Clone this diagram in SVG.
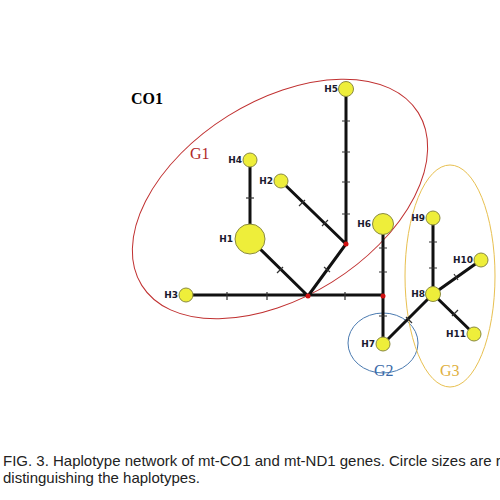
<svg xmlns="http://www.w3.org/2000/svg" width="500" height="500" viewBox="0 0 500 500">
<style>
.edge{stroke:#111;stroke-width:3;fill:none;stroke-linecap:butt}
.tick{stroke:#333;stroke-width:1.2}
.hap{fill:#eeee3a;stroke:#8a8a40;stroke-width:1}
.lbl{font-family:"DejaVu Sans",sans-serif;font-weight:bold;font-size:9px;fill:#1a1a2e;text-anchor:end}
.jn{fill:#d01010}
.grp{font-family:"Liberation Serif",serif;font-size:16px}
.cap{font-family:"Liberation Sans",Arial,sans-serif;font-size:15px;fill:#222}
</style>
<rect width="500" height="500" fill="#fff"/>
<text x="131" y="104" font-family="Liberation Serif,serif" font-weight="bold" font-size="16" fill="#000">CO1</text>
<g id="groups" fill="none">
<ellipse cx="280" cy="199" rx="163" ry="98" transform="rotate(-32 280 199)" stroke="#c03030" stroke-width="1"/>
<ellipse cx="383" cy="343" rx="35" ry="30" stroke="#4a7ab0" stroke-width="1"/>
<ellipse cx="450" cy="276" rx="45" ry="111" stroke="#e8c050" stroke-width="1"/>
<text class="grp" x="190" y="159" fill="#b02828">G1</text>
<text class="grp" x="374" y="376" fill="#3a6aa8">G2</text>
<text class="grp" x="440" y="376" fill="#e0b040">G3</text>
</g>
<g id="connectors">
<path class="edge" d="M346 89V244L308 296M281 181L346 244M250 160V239L308 296M186 295H383M383 224V344M383 344L433 294M433 218V294L481 260M433 294L474 334"/>
<g class="tick">
<path d="M342 121h8M342 152h8M342 182h8M342 214h8"/>
<path d="M246 198h8"/>
<path d="M299 206l6 -6M322 226l6 -6"/>
<path d="M277 273l6 -6"/>
<path d="M324 267l6 5"/>
<path d="M227 292v8M267 292v8M345 292v8"/>
<path d="M379 248h8M379 272h8M379 316h8"/>
<path d="M406 317l6 6"/>
<path d="M429 242h8M429 268h8"/>
<path d="M454 274l4 6"/>
<path d="M452 316l6 -6"/>
</g>
<circle class="jn" cx="308" cy="296" r="2.5"/>
<circle class="jn" cx="346" cy="244" r="2.5"/>
<circle class="jn" cx="383" cy="296" r="2.5"/>
</g>
<g id="H1"><circle class="hap" cx="250" cy="239" r="15"/><text class="lbl" x="233" y="242">H1</text></g>
<g id="H2"><circle class="hap" cx="281" cy="181" r="7"/><text class="lbl" x="273" y="184">H2</text></g>
<g id="H3"><circle class="hap" cx="186" cy="295" r="7"/><text class="lbl" x="178" y="298">H3</text></g>
<g id="H4"><circle class="hap" cx="250" cy="160" r="7"/><text class="lbl" x="242" y="163">H4</text></g>
<g id="H5"><circle class="hap" cx="346" cy="89" r="7.5"/><text class="lbl" x="338" y="92">H5</text></g>
<g id="H6"><circle class="hap" cx="383" cy="224" r="10.5"/><text class="lbl" x="371" y="227">H6</text></g>
<g id="H7"><circle class="hap" cx="383" cy="344" r="7"/><text class="lbl" x="375" y="347">H7</text></g>
<g id="H8"><circle class="hap" cx="433" cy="294" r="7.5"/><text class="lbl" x="425" y="297">H8</text></g>
<g id="H9"><circle class="hap" cx="433" cy="218" r="7"/><text class="lbl" x="425" y="221">H9</text></g>
<g id="H10"><circle class="hap" cx="481" cy="260" r="7"/><text class="lbl" x="473" y="263">H10</text></g>
<g id="H11"><circle class="hap" cx="474" cy="334" r="7"/><text class="lbl" x="466" y="337">H11</text></g>
<text class="cap" x="3" y="466">FIG. 3. Haplotype network of mt-CO1 and mt-ND1 genes. Circle sizes are r</text>
<text class="cap" x="3" y="483">distinguishing the haplotypes.</text>
</svg>
